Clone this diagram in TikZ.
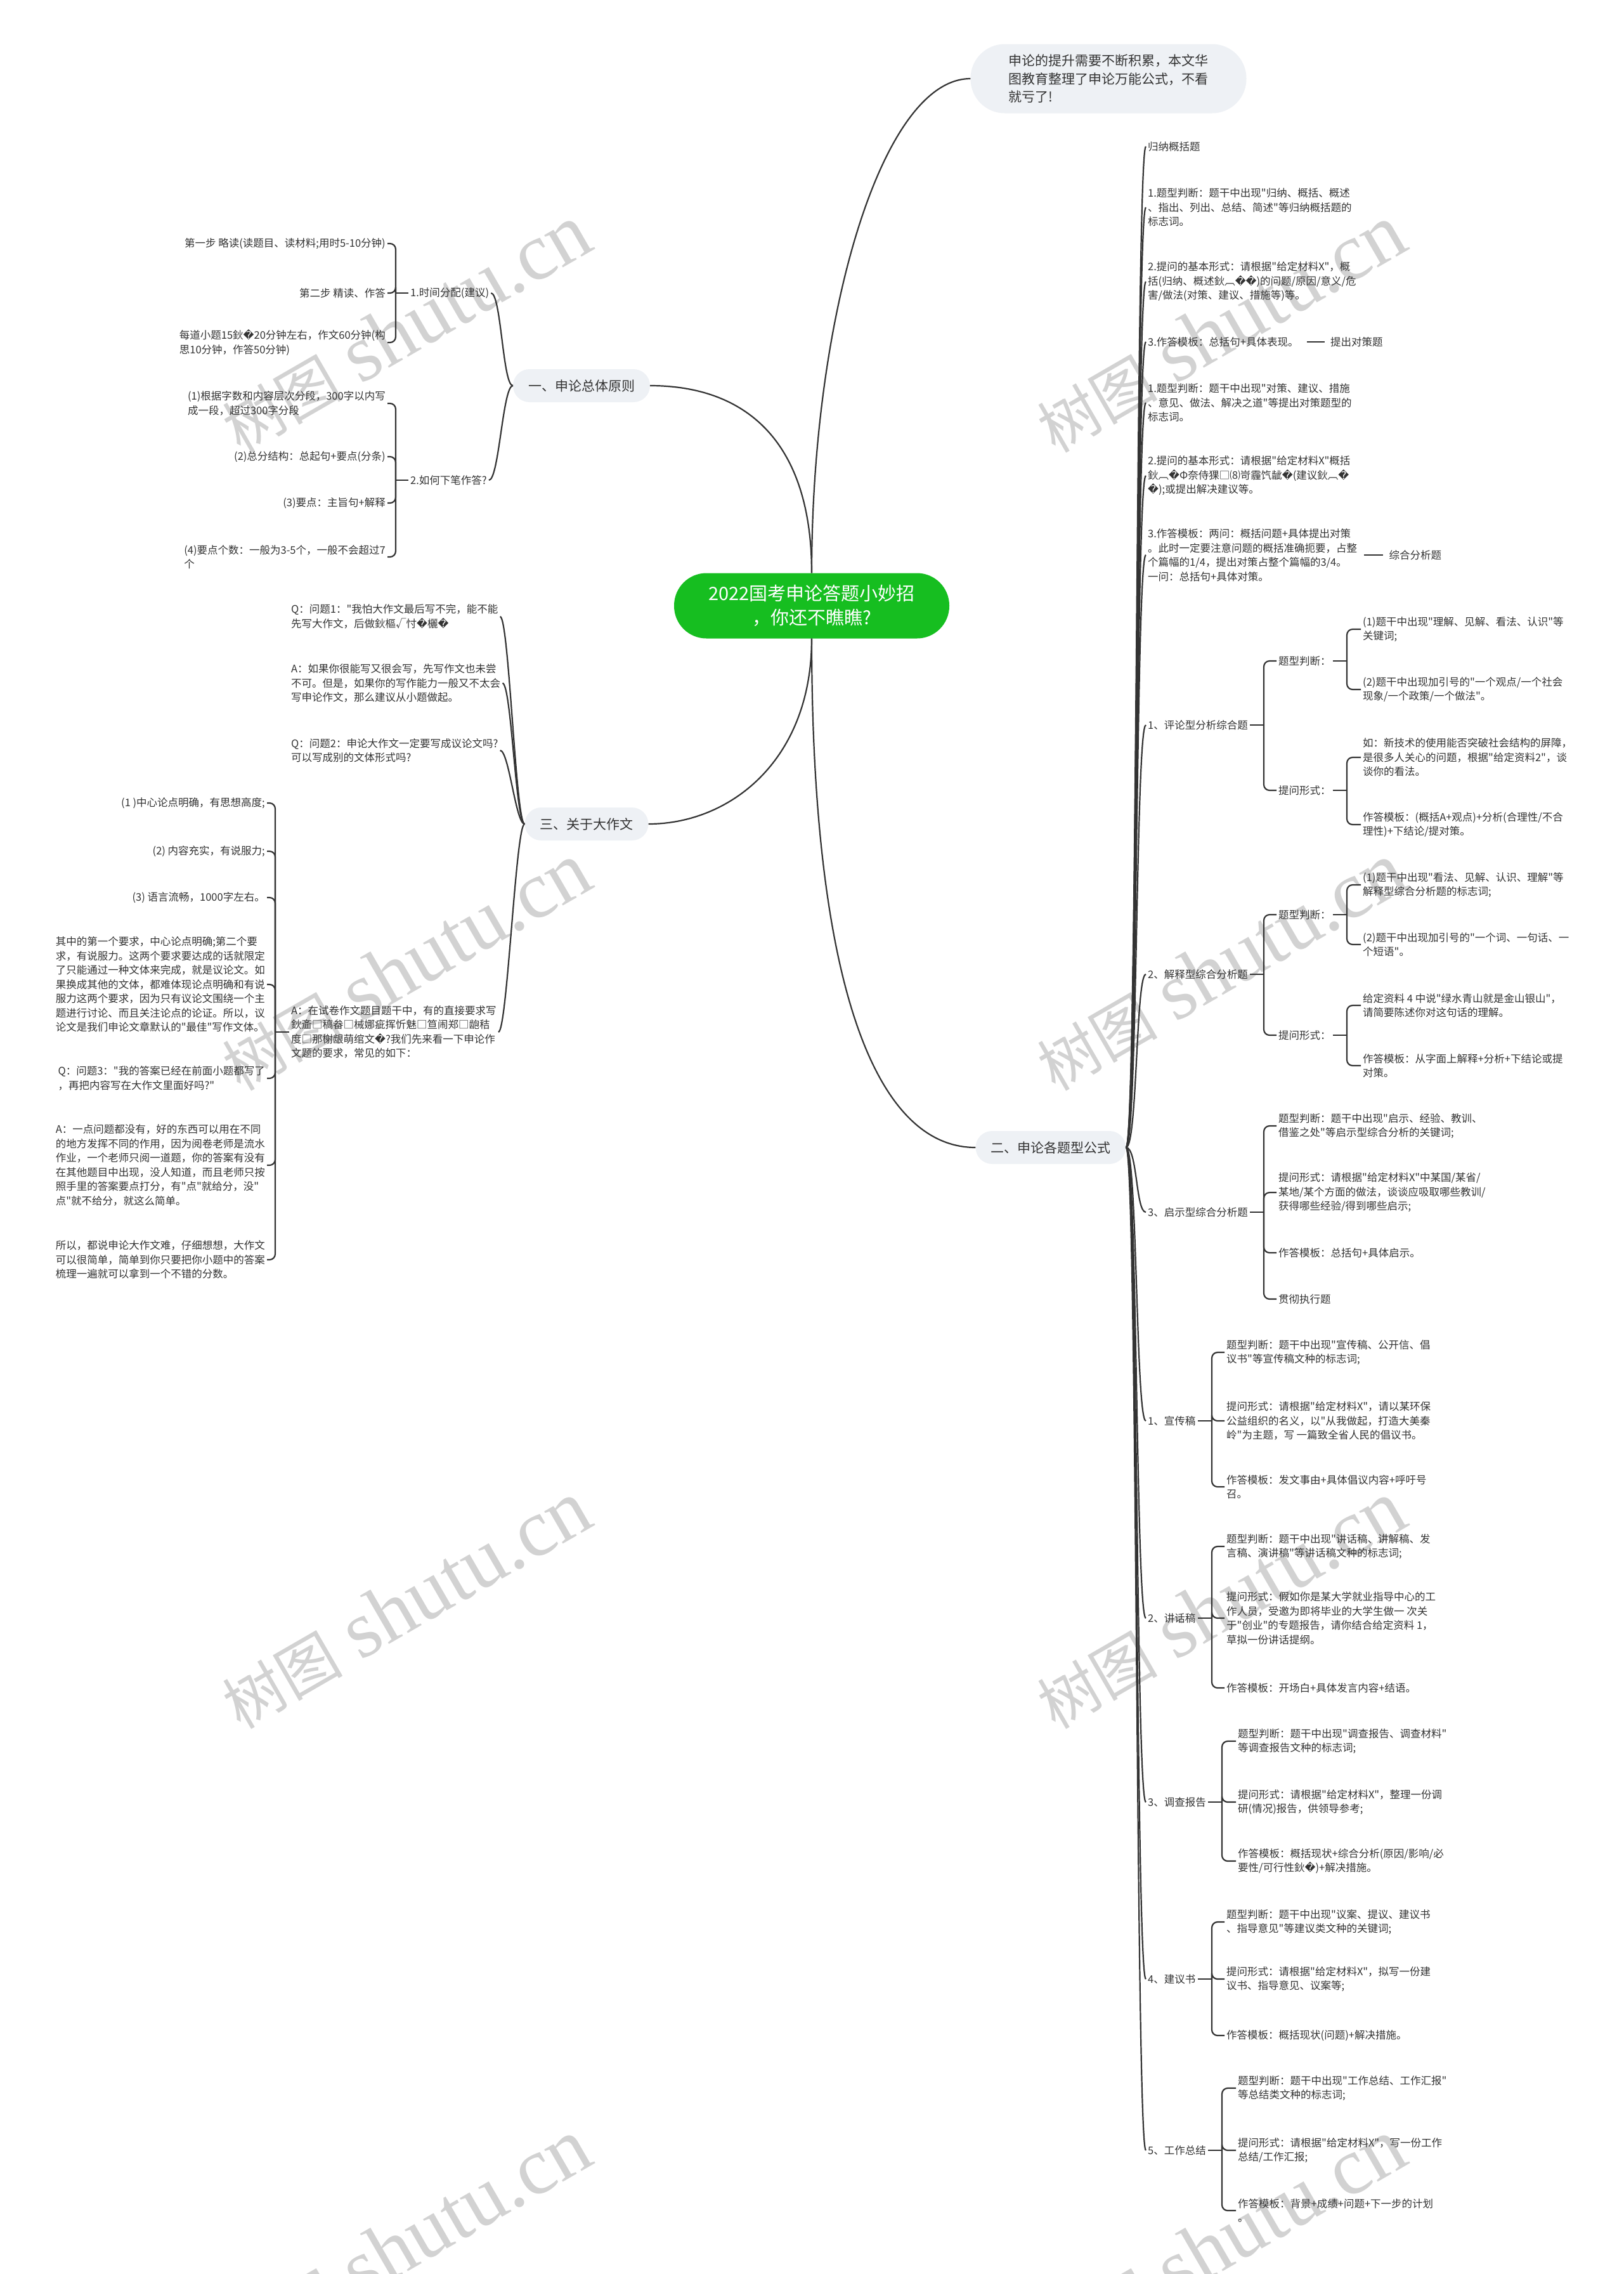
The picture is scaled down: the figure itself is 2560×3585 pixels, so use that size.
\documentclass[tikz,border=0pt]{standalone}
\usepackage{fontspec}
\newfontfamily\cjk{Noto Sans CJK SC}
\newfontfamily\dejavu{DejaVu Sans}
\newfontfamily\wmlatin{Liberation Serif}
\usetikzlibrary{positioning}
\definecolor{ink}{HTML}{333333}
\definecolor{rootgreen}{RGB}{22,190,32}
\definecolor{pill}{HTML}{EEF1F5}
\definecolor{wmgray}{HTML}{D2D2D2}
\newcommand\rpl{{\dejavu\char"FFFD}}
\newcommand\txtfont{\cjk\fontsize{16.5}{22.5}\selectfont}

\begin{document}
\begin{tikzpicture}[x=1pt, y=-1pt,
  link/.style={draw=ink, line width=2.2pt},
  brace/.style={link, rounded corners=9pt},
  leaf/.style={text=ink, font=\txtfont, align=left, inner xsep=3pt, inner ysep=2pt},
  lleaf/.style={leaf, anchor=east},
  rleaf/.style={leaf, anchor=west},
  topic/.style={fill=pill, rounded corners=26pt, minimum height=52pt, inner xsep=24pt,
                text=ink, font=\cjk\fontsize{21}{26}\selectfont},
  rootnode/.style={fill=rootgreen, text=white, rounded corners=51pt, minimum width=434pt,
                   minimum height=103pt, align=center, font=\cjk\fontsize{29}{38}\selectfont},
  callout/.style={fill=pill, rounded corners=54pt, minimum width=435pt, minimum height=109pt,
                  align=left, text=ink, font=\cjk\fontsize{21}{28.5}\selectfont},
  wm/.style={text=wmgray, rotate=30, inner sep=0pt}
]
\fill[white] (0,0) rectangle (2560,3585);
\useasboundingbox (0,0) rectangle (2560,3585);

% watermark
\foreach \wx in {640,1925}
  \foreach \wy in {518,1524,2530,3536}
    \node[wm] (wm-\wx-\wy) at (\wx,\wy) {{\cjk\fontsize{95}{100}\selectfont 树图}\hspace{28pt}{\wmlatin\fontsize{128}{130}\selectfont shutu.cn}};

% centre
\node[rootnode] (root) at (1280,955) {2022国考申论答题小妙招\\，你还不瞧瞧?};
\node[callout] (intro) at (1748,124) {申论的提升需要不断积累，本文华\\图教育整理了申论万能公式，不看\\就亏了!};
\node[topic] (yuanze) at (917,608) {一、申论总体原则};
\node[topic] (zuowen) at (925,1299) {三、关于大作文};
\node[topic] (gongshi) at (1657,1809) {二、申论各题型公式};

\draw[link] (root.north) .. controls (1280,500) and (1390,124) .. (intro.west);
\draw[link] (root.north) .. controls (1280,700) and (1180,608) .. (yuanze.east);
\draw[link] (root.south) .. controls (1280,1200) and (1150,1299) .. (zuowen.east);
\draw[link] (root.south) .. controls (1280,1550) and (1380,1809) .. (gongshi.west);

% 一
\node[rleaf] (shijian) at (644,462) {1.时间分配(建议)};
\node[rleaf] (xiabi) at (644,757) {2.如何下笔作答?};
\node[lleaf] (lue) at (611,384) {第一步 略读(读题目、读材料;用时5-10分钟)};
\node[lleaf] (jing) at (611,462) {第二步 精读、作答};
\node[lleaf] (meidao) at (611,540) {每道小题15鈥\rpl{}20分钟左右，作文60分钟(构\\思10分钟，作答50分钟)};
\node[lleaf] (fenduan) at (611,636) {(1)根据字数和内容层次分段，300字以内写\\成一段，超过300字分段};
\node[lleaf] (zongfen) at (611,720) {(2)总分结构：总起句+要点(分条)};
\node[lleaf] (zhuzhi) at (611,793) {(3)要点：主旨句+解释};
\node[lleaf] (geshu) at (611,878) {(4)要点个数：一般为3-5个，一般不会超过7\\个};

\foreach \c in {shijian,xiabi}
  \draw[link] (yuanze.west) .. controls +(-16,0) and +(16,0) .. (\c.east);
\coordinate (bshijian) at (624,462);
\coordinate (bxiabi) at (624,757);
\draw[link] (shijian.west) -- (bshijian);
\draw[link] (xiabi.west) -- (bxiabi);
\foreach \c in {lue,jing,meidao}
  \draw[brace] (bshijian) |- (\c.east);
\foreach \c in {fenduan,zongfen,zhuzhi,geshu}
  \draw[brace] (bxiabi) |- (\c.east);

% 三
\node[rleaf] (wen1) at (456,972) {Q：问题1："我怕大作文最后写不完，能不能\\先写大作文，后做鈥樞√忖\rpl{}欐\rpl{}};
\node[rleaf] (da1) at (456,1077) {A：如果你很能写又很会写，先写作文也未尝\\不可。但是，如果你的写作能力一般又不太会\\写申论作文，那么建议从小题做起。};
\node[rleaf] (wen2) at (456,1183) {Q：问题2：申论大作文一定要写成议论文吗?\\可以写成别的文体形式吗?};
\node[rleaf] (da2) at (456,1627) {A：在试卷作文题目题干中，有的直接要求写\\鈥齑□稿畚□械娜疵挥忻魅□笪闹郑□龅秸\\度□那榭龈萌绾文\rpl{}?我们先来看一下申论作\\文题的要求，常见的如下：};
\node[lleaf] (yao1) at (421,1266) {(1 )中心论点明确，有思想高度;};
\node[lleaf] (yao2) at (421,1342) {(2) 内容充实，有说服力;};
\node[lleaf] (yao3) at (421,1415) {(3) 语言流畅，1000字左右。};
\node[lleaf] (qizhong) at (421,1552) {其中的第一个要求，中心论点明确;第二个要\\求，有说服力。这两个要求要达成的话就限定\\了只能通过一种文体来完成，就是议论文。如\\果换成其他的文体，都难体现论点明确和有说\\服力这两个要求，因为只有议论文围绕一个主\\题进行讨论、而且关注论点的论证。所以，议\\论文是我们申论文章默认的"最佳"写作文体。};
\node[lleaf] (wen3) at (421,1700) {Q：问题3："我的答案已经在前面小题都写了\\，再把内容写在大作文里面好吗?"};
\node[lleaf] (da3) at (421,1837) {A：一点问题都没有，好的东西可以用在不同\\的地方发挥不同的作用，因为阅卷老师是流水\\作业，一个老师只阅一道题，你的答案有没有\\在其他题目中出现，没人知道，而且老师只按\\照手里的答案要点打分，有"点"就给分，没"\\点"就不给分，就这么简单。};
\node[lleaf] (suoyi) at (421,1986) {所以，都说申论大作文难，仔细想想，大作文\\可以很简单，简单到你只要把你小题中的答案\\梳理一遍就可以拿到一个不错的分数。};

\foreach \c in {wen1,da1,wen2,da2}
  \draw[link] (zuowen.west) .. controls +(-14,0) and +(14,0) .. (\c.east);
\coordinate (bda2) at (434,1627);
\draw[link] (da2.west) -- (bda2);
\foreach \c in {yao1,yao2,yao3,qizhong,wen3,da3,suoyi}
  \draw[brace] (bda2) |- (\c.east);

% 二
\node[rleaf] (g1) at (1807,231) {归纳概括题};
\node[rleaf] (g2) at (1807,327) {1.题型判断：题干中出现"归纳、概括、概述\\、指出、列出、总结、简述"等归纳概括题的\\标志词。};
\node[rleaf] (g3) at (1807,444) {2.提问的基本形式：请根据"给定材料X"，概\\括(归纳、概述鈥︹\rpl\rpl)的问题/原因/意义/危\\害/做法(对策、建议、措施等)等。};
\node[rleaf] (g4) at (1807,539) {3.作答模板：总括句+具体表现。};
\node[rleaf] (g5) at (1807,635) {1.题型判断：题干中出现"对策、建议、措施\\、意见、做法、解决之道"等提出对策题型的\\标志词。};
\node[rleaf] (g6) at (1807,750) {2.提问的基本形式：请根据"给定材料X"概括\\鈥︹\rpl{}Φ奈侍猓□⑻岢霾饩龇\rpl{}(建议鈥︹\rpl\\\rpl{});或提出解决建议等。};
\node[rleaf] (g7) at (1807,875) {3.作答模板：两问：概括问题+具体提出对策\\。此时一定要注意问题的概括准确扼要，占整\\个篇幅的1/4，提出对策占整个篇幅的3/4。\\一问：总括句+具体对策。};
\node[rleaf] (g8) at (1807,1143) {1、评论型分析综合题};
\node[rleaf] (g9) at (1807,1536) {2、解释型综合分析题};
\node[rleaf] (g10) at (1807,1911) {3、启示型综合分析题};
\node[rleaf] (g11) at (1807,2240) {1、宣传稿};
\node[rleaf] (g12) at (1807,2551) {2、讲话稿};
\node[rleaf] (g13) at (1807,2841) {3、调查报告};
\node[rleaf] (g14) at (1807,3120) {4、建议书};
\node[rleaf] (g15) at (1807,3390) {5、工作总结};

\node[leaf, right=44pt of g4] (duice) {提出对策题};
\node[leaf, right=44pt of g7] (zonghe) {综合分析题};
\draw[link, shorten <=10pt, shorten >=6pt] (g4) -- (duice);
\draw[link, shorten <=8pt, shorten >=6pt] (g7) -- (zonghe);

\foreach \c in {g1,g2,g3,g4,g5,g6,g7,g8,g9,g10,g11,g12,g13,g14,g15}
  \draw[link] (gongshi.east) .. controls +(18,0) and +(-16,0) .. (\c.west);

% 评论型
\node[rleaf] (g8a) at (2013,1042) {题型判断：};
\node[rleaf] (g8b) at (2013,1246) {提问形式：};
\node[rleaf] (g8a1) at (2146,992) {(1)题干中出现"理解、见解、看法、认识"等\\关键词;};
\node[rleaf] (g8a2) at (2146,1087) {(2)题干中出现加引号的"一个观点/一个社会\\现象/一个政策/一个做法"。};
\node[rleaf] (g8b1) at (2146,1194) {如：新技术的使用能否突破社会结构的屏障，\\是很多人关心的问题，根据"给定资料2"，谈\\谈你的看法。};
\node[rleaf] (g8b2) at (2146,1300) {作答模板：(概括A+观点)+分析(合理性/不合\\理性)+下结论/提对策。};

% 解释型
\node[rleaf] (g9a) at (2013,1442) {题型判断：};
\node[rleaf] (g9b) at (2013,1632) {提问形式：};
\node[rleaf] (g9a1) at (2146,1395) {(1)题干中出现"看法、见解、认识、理解"等\\解释型综合分析题的标志词;};
\node[rleaf] (g9a2) at (2146,1489) {(2)题干中出现加引号的"一个词、一句话、一\\个短语"。};
\node[rleaf] (g9b1) at (2146,1585) {给定资料 4 中说"绿水青山就是金山银山"，\\请简要陈述你对这句话的理解。};
\node[rleaf] (g9b2) at (2146,1680) {作答模板：从字面上解释+分析+下结论或提\\对策。};

% 启示型
\node[rleaf] (g10a) at (2013,1775) {题型判断：题干中出现"启示、经验、教训、\\借鉴之处"等启示型综合分析的关键词;};
\node[rleaf] (g10b) at (2013,1880) {提问形式：请根据"给定材料X"中某国/某省/\\某地/某个方面的做法，谈谈应吸取哪些教训/\\获得哪些经验/得到哪些启示;};
\node[rleaf] (g10c) at (2013,1975) {作答模板：总括句+具体启示。};
\node[rleaf] (g10d) at (2013,2048) {贯彻执行题};

% 文种
\node[rleaf] (g11a) at (1931,2132) {题型判断：题干中出现"宣传稿、公开信、倡\\议书"等宣传稿文种的标志词;};
\node[rleaf] (g11b) at (1931,2240) {提问形式：请根据"给定材料X"，请以某环保\\公益组织的名义，以"从我做起，打造大美秦\\岭"为主题，写 一篇致全省人民的倡议书。};
\node[rleaf] (g11c) at (1931,2344) {作答模板：发文事由+具体倡议内容+呼吁号\\召。};
\node[rleaf] (g12a) at (1931,2438) {题型判断：题干中出现"讲话稿、讲解稿、发\\言稿、演讲稿"等讲话稿文种的标志词;};
\node[rleaf] (g12b) at (1931,2551) {提问形式：假如你是某大学就业指导中心的工\\作人员，受邀为即将毕业的大学生做一 次关\\于"创业"的专题报告，请你结合给定资料 1，\\草拟一份讲话提纲。};
\node[rleaf] (g12c) at (1931,2661) {作答模板：开场白+具体发言内容+结语。};
\node[rleaf] (g13a) at (1949,2745) {题型判断：题干中出现"调查报告、调查材料"\\等调查报告文种的标志词;};
\node[rleaf] (g13b) at (1949,2841) {提问形式：请根据"给定材料X"，整理一份调\\研(情况)报告，供领导参考;};
\node[rleaf] (g13c) at (1949,2934) {作答模板：概括现状+综合分析(原因/影响/必\\要性/可行性鈥\rpl{})+解决措施。};
\node[rleaf] (g14a) at (1931,3030) {题型判断：题干中出现"议案、提议、建议书\\、指导意见"等建议类文种的关键词;};
\node[rleaf] (g14b) at (1931,3120) {提问形式：请根据"给定材料X"，拟写一份建\\议书、指导意见、议案等;};
\node[rleaf] (g14c) at (1931,3209) {作答模板：概括现状(问题)+解决措施。};
\node[rleaf] (g15a) at (1949,3292) {题型判断：题干中出现"工作总结、工作汇报"\\等总结类文种的标志词;};
\node[rleaf] (g15b) at (1949,3390) {提问形式：请根据"给定材料X"，写一份工作\\总结/工作汇报;};
\node[rleaf] (g15c) at (1949,3485) {作答模板：背景+成绩+问题+下一步的计划\\。};

% brackets
\coordinate (bg8) at (1993,1143);
\coordinate (bg8a) at (2124,1042);
\coordinate (bg8b) at (2124,1246);
\coordinate (bg9) at (1993,1536);
\coordinate (bg9a) at (2124,1442);
\coordinate (bg9b) at (2124,1632);
\coordinate (bg10) at (1993,1911);
\coordinate (bg11) at (1911,2240);
\coordinate (bg12) at (1911,2551);
\coordinate (bg13) at (1927,2841);
\coordinate (bg14) at (1911,3120);
\coordinate (bg15) at (1927,3390);

\foreach \p in {g8,g8a,g8b,g9,g9a,g9b,g10,g11,g12,g13,g14,g15}
  \draw[link] (\p.east) -- (b\p);
\foreach \p/\c in {g8/g8a,g8/g8b,g8a/g8a1,g8a/g8a2,g8b/g8b1,g8b/g8b2,
                   g9/g9a,g9/g9b,g9a/g9a1,g9a/g9a2,g9b/g9b1,g9b/g9b2,
                   g10/g10a,g10/g10b,g10/g10c,g10/g10d,
                   g11/g11a,g11/g11b,g11/g11c,g12/g12a,g12/g12b,g12/g12c,
                   g13/g13a,g13/g13b,g13/g13c,g14/g14a,g14/g14b,g14/g14c,
                   g15/g15a,g15/g15b,g15/g15c}
  \draw[brace] (b\p) |- (\c.west);
\end{tikzpicture}
\end{document}
